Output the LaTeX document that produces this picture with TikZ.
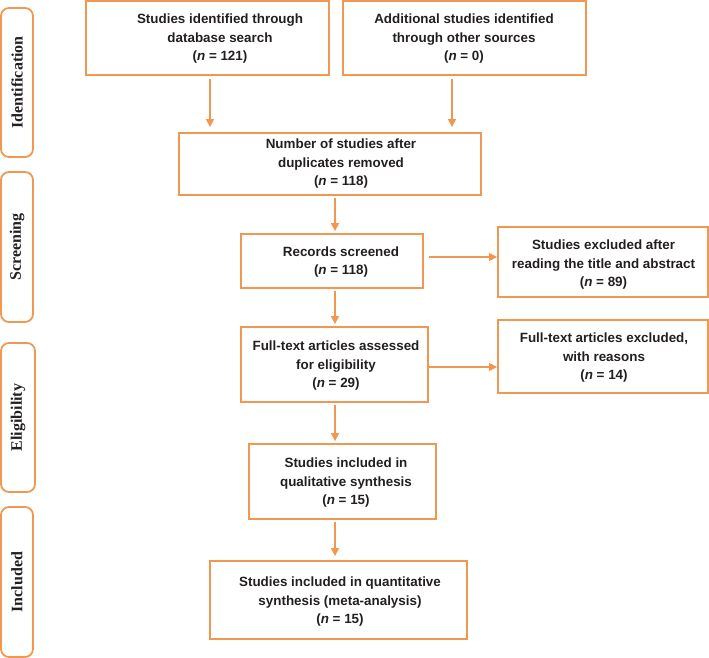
\documentclass[tikz,border=0pt]{standalone}
\usepackage{fontspec}
\setmainfont{Liberation Sans}
\newfontfamily\phasefont{Liberation Serif}
\usetikzlibrary{arrows.meta}
\definecolor{org}{RGB}{240,152,82}
\definecolor{txt}{RGB}{35,31,32}
\begin{document}
\begin{tikzpicture}[x=1pt,y=-1pt,
 box/.style={draw=org,line width=1.8pt,rectangle,inner sep=0pt},
 ttext/.style={align=center,font=\fontsize{13.4}{18.5}\selectfont\bfseries,text=txt,inner sep=0pt},
 phase/.style={draw=org,line width=1.8pt,rounded corners=8pt,inner sep=0pt},
 ptext/.style={rotate=90,font=\phasefont\bfseries\fontsize{16}{18}\selectfont,text=txt,inner sep=0pt},
 arr/.style={draw=org,line width=1.5pt,-{Triangle[length=8pt,width=8pt]}}]
\useasboundingbox (0,0) rectangle (709,658);
% phase boxes
\node[phase,minimum width=32pt,minimum height=149pt] (p1) at (17,82.5) {};
\node[phase,minimum width=32pt,minimum height=150pt] (p2) at (17,247) {};
\node[phase,minimum width=34pt,minimum height=149pt] (p3) at (18,417.5) {};
\node[phase,minimum width=32pt,minimum height=150pt] (p4) at (17,582) {};
\node[ptext] (l1) at (p1.center) {Identification};
\node[ptext] (l2) at (p2.center) {Screening};
\node[ptext] (l3) at (p3.center) {Eligibility};
\node[ptext] (l4) at (p4.center) {Included};
% boxes
\node[box,minimum width=243pt,minimum height=74pt] (b1) at (207.5,38) {};
\node[box,minimum width=243pt,minimum height=74pt] (b2) at (464.5,38) {};
\node[box,minimum width=302pt,minimum height=62pt] (b3) at (330,164) {};
\node[box,minimum width=182pt,minimum height=54pt] (b4) at (332,261) {};
\node[box,minimum width=210pt,minimum height=70pt] (b5) at (603,262) {};
\node[box,minimum width=187pt,minimum height=75pt] (b6) at (334.5,364.5) {};
\node[box,minimum width=210pt,minimum height=73pt] (b7) at (603,356.5) {};
\node[box,minimum width=187pt,minimum height=75pt] (b8) at (342.5,481.5) {};
\node[box,minimum width=257pt,minimum height=78pt] (b9) at (338.5,600) {};
% texts
\node[ttext] (t1) at (220,39) {Studies identified through\\database search\\(\textit{n} = 121)};
\node[ttext] (t2) at (464,39) {Additional studies identified\\through other sources\\(\textit{n} = 0)};
\node[ttext] (t3) at (341,164) {Number of studies after\\duplicates removed\\(\textit{n} = 118)};
\node[ttext] (t4) at (341,262) {Records screened\\(\textit{n} = 118)};
\node[ttext] (t5) at (603.5,265) {Studies excluded after\\reading the title and abstract\\(\textit{n} = 89)};
\node[ttext] (t6) at (336,366) {Full-text articles assessed\\for eligibility\\(\textit{n} = 29)};
\node[ttext] (t7) at (604,358) {Full-text articles excluded,\\with reasons\\(\textit{n} = 14)};
\node[ttext] (t8) at (346,483) {Studies included in\\qualitative synthesis\\(\textit{n} = 15)};
\node[ttext] (t9) at (340,602) {Studies included in quantitative\\synthesis (meta-analysis)\\(\textit{n} = 15)};
% arrows
\draw[arr,shorten <=3pt,shorten >=5pt] (b1.south -| 210,0) -- (b3.north -| 210,0);
\draw[arr,shorten <=3pt,shorten >=5pt] (b2.south -| 452,0) -- (b3.north -| 452,0);
\draw[arr,shorten <=2pt,shorten >=2pt] (b3.south -| 335,0) -- (b4.north -| 335,0);
\draw[arr,shorten <=2pt,shorten >=2pt] (b4.south -| 335,0) -- (b6.north -| 335,0);
\draw[arr,shorten <=2pt,shorten >=2pt] (b6.south -| 335,0) -- (b8.north -| 335,0);
\draw[arr,shorten <=2pt,shorten >=4pt] (b8.south -| 335,0) -- (b9.north -| 335,0);
\draw[arr,shorten <=5pt] ([yshift=4pt]b4.east) -- ([yshift=4pt]b4.east -| b5.west);
\draw[arr] ([yshift=-2.5pt]b6.east) -- ([yshift=-2.5pt]b6.east -| b7.west);
\end{tikzpicture}
\end{document}
